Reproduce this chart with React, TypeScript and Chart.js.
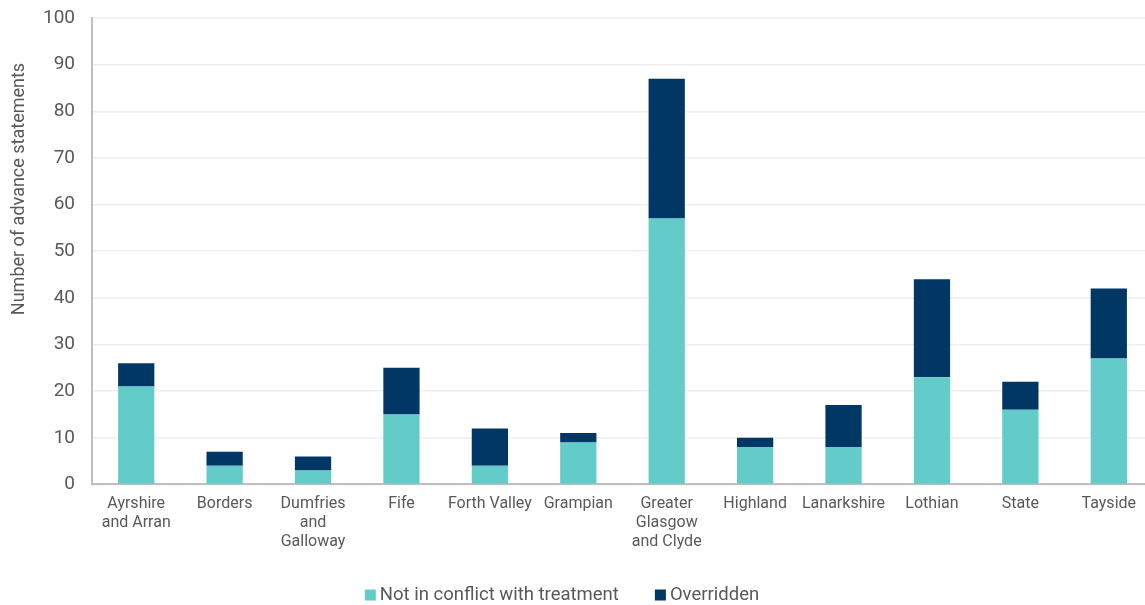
import React, { useEffect, useRef } from "react";
import { Chart, registerables } from "chart.js";

Chart.register(...registerables);

const categories: (string | string[])[] = [
  ["Ayrshire", "and Arran"],
  "Borders",
  ["Dumfries", "and", "Galloway"],
  "Fife",
  "Forth Valley",
  "Grampian",
  ["Greater", "Glasgow", "and Clyde"],
  "Highland",
  "Lanarkshire",
  "Lothian",
  "State",
  "Tayside",
];

const notInConflict = [21, 4, 3, 15, 4, 9, 57, 8, 8, 23, 16, 27];
const overridden = [5, 3, 3, 10, 8, 2, 30, 2, 9, 21, 6, 15];

const seriesNames = ["Not in conflict with treatment", "Overridden"];
const seriesColors = ["#63CBC8", "#003764"];
const yTitle = "Number of advance statements";
const TEXT = "#595959";

const extrasPlugin = {
  id: "extras",
  afterDraw(chart: any) {
    const ctx = chart.ctx as CanvasRenderingContext2D;
    ctx.save();
    ctx.fillStyle = TEXT;
    ctx.font = "18px Roboto";
    ctx.textAlign = "center";
    ctx.textBaseline = "middle";
    ctx.translate(19, 189);
    ctx.rotate(-Math.PI / 2);
    ctx.fillText(yTitle, 0, 0);
    ctx.restore();

    ctx.save();
    ctx.font = "18.5px Roboto";
    ctx.textBaseline = "middle";
    ctx.textAlign = "left";
    const box = 11;
    const gapBox = 4;
    const gapItem = 36;
    const widths = seriesNames.map((n) => ctx.measureText(n).width);
    const total =
      widths.reduce((a, w) => a + box + gapBox + w, 0) + gapItem * (seriesNames.length - 1);
    let x = 562 - total / 2;
    const y = 595;
    seriesNames.forEach((n, i) => {
      ctx.fillStyle = seriesColors[i];
      ctx.fillRect(x, y - box / 2, box, box);
      x += box + gapBox;
      ctx.fillStyle = TEXT;
      ctx.fillText(n, x, y + 0.5);
      x += widths[i] + gapItem;
    });
    ctx.restore();
  },
};

export default function App() {
  const ref = useRef<HTMLCanvasElement>(null);
  useEffect(() => {
    document.body.style.margin = "0";
    const ctx = ref.current!;
    const chart = new Chart(ctx, {
      type: "bar",
      data: {
        labels: categories,
        datasets: [
          {
            label: seriesNames[0],
            data: notInConflict,
            backgroundColor: seriesColors[0],
            barPercentage: 0.41,
            categoryPercentage: 1,
          },
          {
            label: seriesNames[1],
            data: overridden,
            backgroundColor: seriesColors[1],
            barPercentage: 0.41,
            categoryPercentage: 1,
          },
        ],
      },
      plugins: [extrasPlugin],
      options: {
        animation: false,
        responsive: false,
        maintainAspectRatio: false,
        layout: { padding: { top: 18, right: 0, left: 0, bottom: 43 } },
        font: { family: "Roboto" },
        plugins: {
          legend: { display: false },
          tooltip: { enabled: false },
        },
        scales: {
          x: {
            stacked: true,
            grid: { display: false, drawTicks: false },
            border: { color: "#BFBFBF", width: 2 },
            ticks: {
              color: TEXT,
              font: { family: "Roboto", size: 16, lineHeight: 1.2 },
              maxRotation: 0,
              autoSkip: false,
              padding: 10,
            },
          },
          y: {
            stacked: true,
            min: 0,
            max: 100,
            afterFit: (scale: any) => {
              scale.width = 92;
              scale.paddingTop = 0;
              scale.paddingBottom = 0;
            },
            ticks: {
              stepSize: 10,
              color: TEXT,
              font: { family: "Roboto", size: 19 },
              padding: 17,
            },
            grid: { color: "#EFEFEF", lineWidth: 1.5, drawTicks: false },
            border: { color: "#BFBFBF", width: 2 },
          },
        },
      },
    });
    return () => chart.destroy();
  }, []);
  return (
    <div style={{ width: 1145, height: 605, overflow: "hidden" }}>
      <canvas ref={ref} width={1153} height={605} style={{ display: "block" }} />
    </div>
  );
}
